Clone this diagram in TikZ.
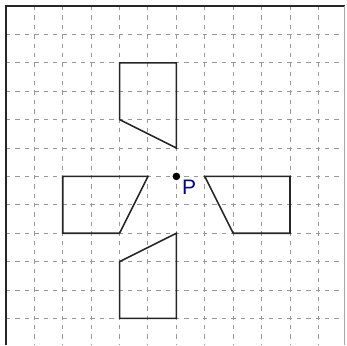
\documentclass[tikz,border=0pt]{standalone}
\usepackage{fontspec}
\setsansfont{Liberation Sans}
\usetikzlibrary{calc}
\tikzstyle{gridline} = [draw=gray!80, line width=0.5pt, dash pattern=on 2.2pt off 2.5pt]
\tikzstyle{figline} = [draw=black!85, line width=0.8pt, line join=miter]
\tikzstyle{ptlabel} = [text=blue!55!black, font=\sffamily\fontsize{10.5}{11}\selectfont, inner sep=0pt]
\begin{document}
\begin{tikzpicture}[x=0.5cm, y=-0.5cm]
        \useasboundingbox (-0.211,-0.211) rectangle (12.007,11.937);
        % grid
        \foreach \i in {1,...,11} {
            \draw[gridline] (\i,0) -- (\i,11.937);
            \draw[gridline] (0,\i) -- (11.93,\i);
        }
        % frame
        \draw[black!85, line width=0.9pt] (0,11.937) -- (0,0) -- (11.93,0);
        \draw[gray!70, line width=0.5pt] (11.93,0) -- (11.93,11.937);
        % centre
        \coordinate (P) at (6,6);
        \fill (P) circle (1.9pt);
        \node[ptlabel] (Plabel) at ($(P)+(0.45,0.38)$) {P};
        % figures
        \draw[figline] (4,2) -- (6,2) -- (6,5) -- (4,4) -- cycle;
        \draw[figline] (2,6) -- (5,6) -- (4,8) -- (2,8) -- cycle;
        \draw[figline] (7,6) -- (10,6) -- (10,8) -- (8,8) -- cycle;
        \draw[figline] (6,8) -- (4,9) -- (4,11) -- (6,11) -- cycle;
    \end{tikzpicture}
\end{document}
